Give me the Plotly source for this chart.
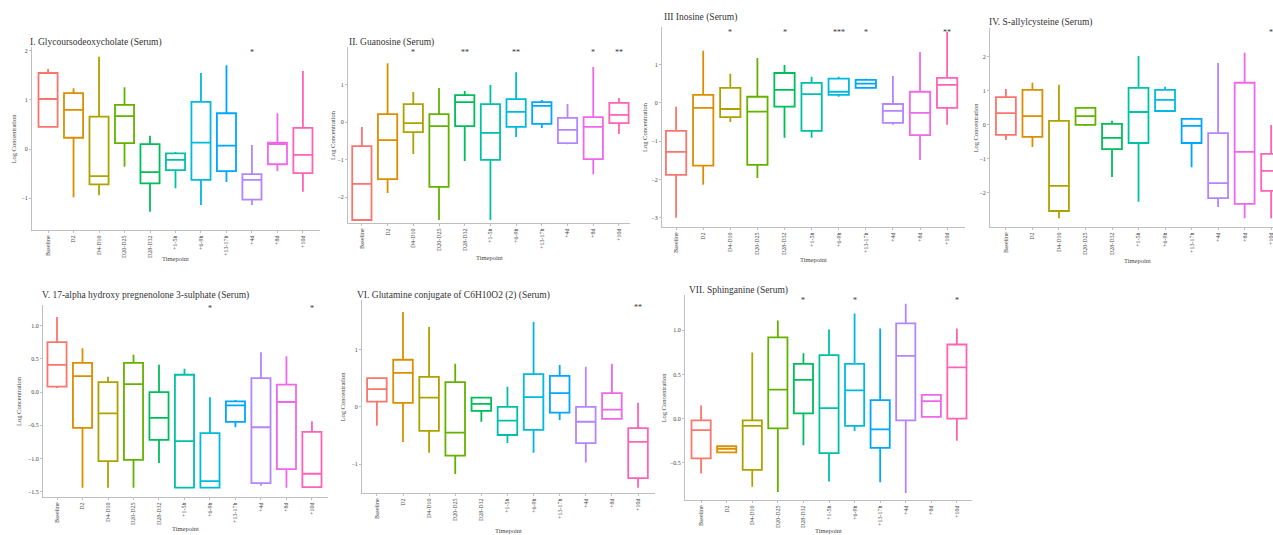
import plotly.graph_objects as go

W, H = 1273, 535

categories = ["Baseline", "D2", "D4-D10", "D20-D25", "D28-D32", "+1-5h", "+6-9h",
              "+13-17h", "+4d", "+8d", "+10d"]
colors = ["#F8766D", "#DB8E00", "#AEA200", "#64B200", "#00BD5C", "#00C1A7",
          "#00BADE", "#00A6FF", "#B385FF", "#EF67EB", "#FF63B6"]

titles = ["I. Glycoursodeoxycholate (Serum)",
          "II. Guanosine (Serum)",
          "III Inosine (Serum)",
          "IV. S-allylcysteine (Serum)",
          "V. 17-alpha hydroxy pregnenolone 3-sulphate (Serum)",
          "VI. Glutamine conjugate of C6H10O2 (2) (Serum)",
          "VII. Sphinganine (Serum)"]

# Panel I
p1_hi = [1.63, 1.24, 1.88, 1.26, 0.27, -0.06, 1.55, 1.71, 0.08, 0.73, 1.59]
p1_q3 = [1.55, 1.14, 0.66, 0.90, 0.10, -0.09, 0.96, 0.73, -0.51, 0.13, 0.43]
p1_med = [1.02, 0.80, -0.55, 0.67, -0.47, -0.22, 0.13, 0.07, -0.63, 0.10, -0.12]
p1_q1 = [0.45, 0.23, -0.72, 0.12, -0.70, -0.43, -0.63, -0.45, -1.03, -0.31, -0.49]
p1_lo = [0.45, -0.98, -0.94, -0.36, -1.28, -0.80, -1.14, -0.67, -1.14, -0.45, -0.87]
p1_sig_idx = [8]
p1_sig_txt = ["*"]

# Panel II
p2_hi = [-0.13, 1.57, 0.80, 0.91, 0.83, 0.99, 1.33, 0.59, 0.48, 1.47, 0.64]
p2_q3 = [-0.64, 0.21, 0.48, 0.21, 0.72, 0.48, 0.61, 0.53, 0.11, 0.13, 0.51]
p2_med = [-1.65, -0.48, -0.03, -0.11, 0.53, -0.29, 0.27, 0.43, -0.21, -0.13, 0.19]
p2_q1 = [-2.61, -1.52, -0.27, -1.73, -0.11, -1.01, -0.13, -0.05, -0.56, -0.99, -0.03]
p2_lo = [-2.61, -1.89, -0.85, -2.61, -1.04, -2.61, -0.40, -0.16, -0.59, -1.39, -0.32]
p2_sig_idx = [2, 4, 6, 9, 10]
p2_sig_txt = ["*", "**", "**", "*", "**"]

# Panel III
p3_hi = [-0.10, 1.36, 0.76, 1.17, 0.99, 0.68, 0.68, 0.63, 0.70, 1.33, 1.85]
p3_q3 = [-0.73, 0.21, 0.39, 0.16, 0.78, 0.52, 0.63, 0.60, -0.03, 0.29, 0.65]
p3_med = [-1.28, -0.13, -0.16, -0.23, 0.34, 0.23, 0.29, 0.50, -0.21, -0.26, 0.47]
p3_q1 = [-1.88, -1.64, -0.37, -1.62, -0.10, -0.73, 0.21, 0.39, -0.52, -0.84, -0.13]
p3_lo = [-3.00, -2.14, -0.50, -1.96, -0.91, -0.91, 0.16, 0.39, -0.57, -1.49, -0.57]
p3_sig_idx = [2, 4, 6, 7, 10]
p3_sig_txt = ["*", "*", "***", "*", "**"]

# Panel IV
p4_hi = [1.06, 1.24, 1.18, 0.53, 0.12, 2.03, 1.12, 0.21, 1.82, 2.12, 0.00]
p4_q3 = [0.82, 1.03, 0.12, 0.50, 0.03, 1.09, 1.03, 0.18, -0.24, 1.24, -0.85]
p4_med = [0.35, 0.26, -1.79, 0.26, -0.38, 0.38, 0.74, -0.03, -1.71, -0.79, -1.35]
p4_q1 = [-0.29, -0.35, -2.53, 0.00, -0.71, -0.53, 0.41, -0.53, -2.15, -2.32, -1.94]
p4_lo = [-0.44, -0.65, -2.74, -0.03, -1.53, -2.26, 0.41, -1.24, -2.41, -2.74, -2.74]
p4_sig_idx = [10]
p4_sig_txt = ["*"]

# Panel V
p5_hi = [1.13, 0.66, 0.23, 0.56, 0.41, 0.35, -0.08, -0.12, 0.60, 0.54, -0.44]
p5_q3 = [0.75, 0.44, 0.15, 0.44, 0.00, 0.26, -0.62, -0.14, 0.21, 0.11, -0.60]
p5_med = [0.41, 0.24, -0.32, 0.12, -0.39, -0.74, -1.34, -0.20, -0.53, -0.15, -1.23]
p5_q1 = [0.08, -0.54, -1.04, -1.02, -0.72, -1.44, -1.44, -0.45, -1.37, -1.16, -1.43]
p5_lo = [0.06, -1.44, -1.44, -1.44, -1.07, -1.44, -1.44, -0.53, -1.41, -1.44, -1.44]
p5_sig_idx = [6, 10]
p5_sig_txt = ["*", "*"]

# Panel VI
p6_hi = [0.50, 1.65, 1.39, 0.75, 0.16, 0.35, 1.48, 0.73, 0.70, 0.75, 0.07]
p6_q3 = [0.50, 0.82, 0.52, 0.43, 0.16, 0.00, 0.57, 0.54, 0.00, 0.24, -0.37]
p6_med = [0.31, 0.59, 0.16, -0.45, 0.05, -0.24, 0.17, 0.24, -0.26, -0.05, -0.61]
p6_q1 = [0.09, 0.07, -0.42, -0.85, -0.07, -0.49, -0.40, -0.10, -0.63, -0.21, -1.24]
p6_lo = [-0.33, -0.61, -0.80, -1.17, -0.26, -0.63, -0.80, -0.23, -0.97, -0.21, -1.41]
p6_sig_idx = [10]
p6_sig_txt = ["**"]

# Panel VII
p7_hi = [0.15, -0.30, 0.75, 1.11, 0.74, 1.01, 1.19, 1.02, 1.30, 0.27, 1.02]
p7_q3 = [-0.02, -0.31, -0.02, 0.92, 0.62, 0.72, 0.62, 0.21, 1.08, 0.27, 0.84]
p7_med = [-0.13, -0.34, -0.08, 0.33, 0.44, 0.12, 0.32, -0.12, 0.71, 0.20, 0.58]
p7_q1 = [-0.45, -0.38, -0.58, -0.11, 0.06, -0.39, -0.08, -0.33, -0.02, 0.02, 0.00]
p7_lo = [-0.62, -0.39, -0.77, -0.83, -0.30, -0.71, -0.14, -0.72, -0.84, 0.02, -0.25]
p7_sig_idx = [4, 6, 10]
p7_sig_txt = ["*", "*", "*"]

panels_data = [
    (p1_hi, p1_q3, p1_med, p1_q1, p1_lo, p1_sig_idx, p1_sig_txt),
    (p2_hi, p2_q3, p2_med, p2_q1, p2_lo, p2_sig_idx, p2_sig_txt),
    (p3_hi, p3_q3, p3_med, p3_q1, p3_lo, p3_sig_idx, p3_sig_txt),
    (p4_hi, p4_q3, p4_med, p4_q1, p4_lo, p4_sig_idx, p4_sig_txt),
    (p5_hi, p5_q3, p5_med, p5_q1, p5_lo, p5_sig_idx, p5_sig_txt),
    (p6_hi, p6_q3, p6_med, p6_q1, p6_lo, p6_sig_idx, p6_sig_txt),
    (p7_hi, p7_q3, p7_med, p7_q1, p7_lo, p7_sig_idx, p7_sig_txt),
]

# layout geometry (pixels) per panel
geom = [
    dict(x=(32, 320), y=(47, 230), xr=[-0.63, 10.67], yr=[-1.65, 2.08], tv=[-1, 0, 1, 2], fmt="d",
         title=(28, 43), ytx=13, xt=(176, 258), sigy=52),
    dict(x=(348, 630), y=(47, 223), xr=[-0.54, 10.43], yr=[-2.69, 2.0], tv=[-2, -1, 0, 1], fmt="d",
         title=(347, 43), ytx=333, xt=(489, 257), sigy=53),
    dict(x=(662, 965), y=(27, 227), xr=[-0.52, 10.66], yr=[-3.24, 1.98], tv=[-3, -2, -1, 0, 1], fmt="d",
         title=(662, 18), ytx=645, xt=(813, 259), sigy=32),
    dict(x=(990, 1273), y=(28, 227), xr=[-0.6, 10.07], yr=[-3.0, 2.85], tv=[-2, -1, 0, 1, 2], fmt="d",
         title=(987, 22), ytx=975, xt=(1137, 260), sigy=32),
    dict(x=(43, 328), y=(305, 497), xr=[-0.55, 10.63], yr=[-1.58, 1.31], tv=[-1.5, -1, -0.5, 0, 0.5, 1.0],
         fmt=".1f", title=(40, 295), ytx=18, xt=(185, 528), sigy=308),
    dict(x=(362, 655), y=(300, 493), xr=[-0.57, 10.65], yr=[-1.50, 1.86], tv=[-1, 0, 1], fmt="d",
         title=(355, 295), ytx=342, xt=(508, 530), sigy=307),
    dict(x=(685, 972), y=(295, 500), xr=[-0.63, 10.59], yr=[-0.92, 1.40], tv=[-0.5, 0, 0.5, 1.0], fmt=".1f",
         title=(687, 290), ytx=663, xt=(828, 530), sigy=300),
]

FONT = "Liberation Serif"
AX_COL = "#bfbfbf"
TXT_COL = "#444444"

fig = go.Figure()
annotations = []
layout_axes = {}

for p, (data, g) in enumerate(zip(panels_data, geom)):
    hi, q3, med, q1, lo, sig_idx, sig_txt = data
    n = p + 1
    xa = "x" if n == 1 else f"x{n}"
    ya = "y" if n == 1 else f"y{n}"
    for i, cat in enumerate(categories):
        fig.add_trace(go.Box(
            x=[cat], q1=[q1[i]], median=[med[i]], q3=[q3[i]],
            lowerfence=[lo[i]], upperfence=[hi[i]],
            line=dict(color=colors[i], width=1.8),
            fillcolor="rgba(255,255,255,0)",
            whiskerwidth=0, width=0.75, boxpoints=False,
            showlegend=False, hoverinfo="skip",
            xaxis=xa, yaxis=ya,
        ))
    x0, x1 = g["x"][0] / W, g["x"][1] / W
    y0, y1 = 1 - g["y"][1] / H, 1 - g["y"][0] / H
    layout_axes[f"xaxis{'' if n == 1 else n}"] = dict(
        domain=[x0, min(x1, 1.0)], anchor=ya, type="category",
        categoryorder="array", categoryarray=categories,
        range=g["xr"], showgrid=False, zeroline=False,
        showline=True, linecolor=AX_COL, linewidth=1,
        ticks="outside", ticklen=2, tickcolor=AX_COL,
        tickangle=-90, tickfont=dict(family=FONT, size=6, color=TXT_COL),
    )
    layout_axes[f"yaxis{'' if n == 1 else n}"] = dict(
        domain=[y0, y1], anchor=xa, range=g["yr"],
        showgrid=False, zeroline=False, showline=True, linecolor=AX_COL, linewidth=1,
        ticks="outside", ticklen=2, tickcolor=AX_COL,
        tickvals=g["tv"], tickformat=g["fmt"],
        tickfont=dict(family=FONT, size=6, color=TXT_COL),
    )
    annotations.append(dict(
        text=titles[p], x=g["title"][0] / W, y=1 - g["title"][1] / H,
        xref="paper", yref="paper", xanchor="left", yanchor="middle",
        showarrow=False, font=dict(family=FONT, size=9.5, color="#333333"),
    ))
    annotations.append(dict(
        text="Log Concentration", x=g["ytx"] / W,
        y=1 - (g["y"][0] + g["y"][1]) / 2 / H,
        xref="paper", yref="paper", xanchor="center", yanchor="middle",
        textangle=-90, showarrow=False, font=dict(family=FONT, size=6.5, color=TXT_COL),
    ))
    annotations.append(dict(
        text="Timepoint", x=g["xt"][0] / W, y=1 - g["xt"][1] / H,
        xref="paper", yref="paper", xanchor="center", yanchor="middle",
        showarrow=False, font=dict(family=FONT, size=6.5, color=TXT_COL),
    ))
    for idx, txt in zip(sig_idx, sig_txt):
        annotations.append(dict(
            text=txt, x=categories[idx], xref=xa, y=1 - g["sigy"] / H, yref="paper",
            xanchor="center", yanchor="middle", showarrow=False,
            font=dict(family=FONT, size=8, color="#333333"),
        ))

fig.update_layout(
    width=W, height=H, margin=dict(l=0, r=0, t=0, b=0),
    paper_bgcolor="white", plot_bgcolor="white",
    boxmode="overlay", annotations=annotations, showlegend=False,
    **layout_axes,
)

fig.write_html("out.html", config={"displayModeBar": False},
               post_script="document.body.style.margin='0px';document.body.style.overflow='hidden';")
